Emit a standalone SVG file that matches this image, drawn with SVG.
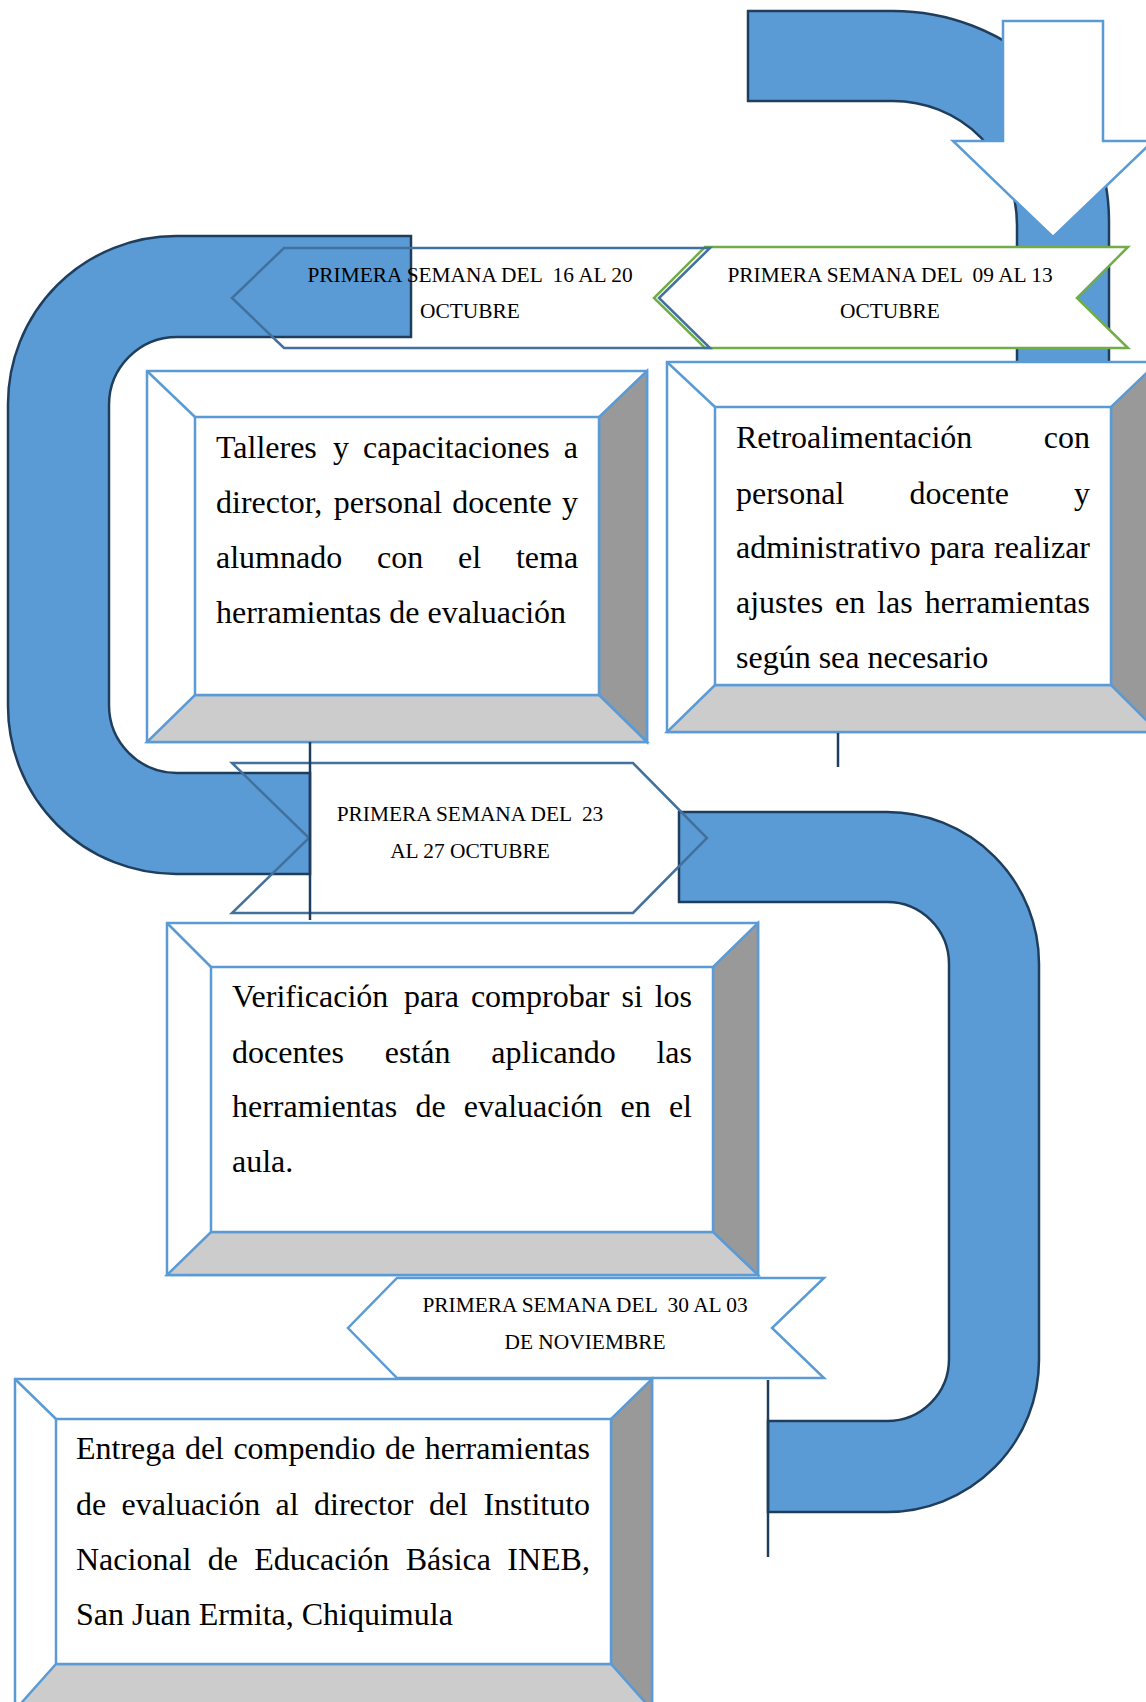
<svg xmlns="http://www.w3.org/2000/svg" width="1146" height="1702" viewBox="0 0 1146 1702">
<style>
.band{fill:#5B9BD5;stroke:#1F3D5C;stroke-width:2.5}
.bx{stroke:#5B9BD5;stroke-width:2.5;stroke-linejoin:miter}
.w{fill:#FFFFFF}
.dk{fill:#999999}
.lt{fill:#CCCCCC}
.rb{fill:none;stroke:#41719C;stroke-width:2.5}
.t{font-family:"Liberation Serif","Times New Roman",serif;font-size:32px;fill:#000}
.r{font-family:"Liberation Serif","Times New Roman",serif;font-size:21.4px;fill:#000;text-anchor:middle}
.ln{stroke:#1F3D5C;stroke-width:2.5;fill:none}
</style>
<rect width="1146" height="1702" fill="#FFFFFF"/>

<g id="band-top-right">
<path class="band" d="M748,11 H893 A216,210 0 0 1 1109,221 V380 H1017 V225 A124,124 0 0 0 893,101 H748 Z"/>
</g>
<g id="band-left">
<path class="band" d="M411,236 H176 A168,168 0 0 0 8,404 V706 A168,168 0 0 0 176,874 H310 V773 H177 A68,68 0 0 1 109,705 V405 A68,68 0 0 1 177,337 H411 Z"/>
</g>
<g id="band-right">
<path class="band" d="M679,812 H887 A152,152 0 0 1 1039,964 V1360 A152,152 0 0 1 887,1512 H768 V1421 H887 A62,62 0 0 0 949,1359 V964 A62,62 0 0 0 887,902 H679 Z"/>
</g>

<g id="down-arrow">
<path d="M1003,21 H1103 V141 H1153 L1053,237 L953,141 H1003 Z" fill="#FFFFFF" stroke="#5B9BD5" stroke-width="2.5"/>
</g>

<g id="ribbon-1">
<path d="M705,247 H1128 L1077,298 L1128,348 H705 L654,298 Z" fill="#FFFFFF" stroke="#70AD47" stroke-width="2.5"/>
<text class="r" xml:space="preserve" x="890" y="282">PRIMERA SEMANA DEL  09 AL 13</text>
<text class="r" x="890" y="318">OCTUBRE</text>
</g>

<g id="ribbon-2">
<path class="rb" d="M284,248 H710 L659,298 L710,348 H284 L232,298 Z"/>
<text class="r" xml:space="preserve" x="470" y="282">PRIMERA SEMANA DEL  16 AL 20</text>
<text class="r" x="470" y="318">OCTUBRE</text>
</g>

<g id="box-1">
<rect class="bx w" x="147" y="371" width="500" height="371"/>
<polygon class="bx dk" points="647,371 647,742 599,695 599,417"/>
<polygon class="bx lt" points="147,742 647,742 599,695 195,695"/>
<rect class="bx w" x="195" y="417" width="404" height="278"/>
<line class="bx" x1="147" y1="371" x2="195" y2="417"/>
<text class="t" y="458"><tspan x="216">Talleres</tspan><tspan x="333.1">y</tspan><tspan x="363.1">capacitaciones</tspan><tspan x="563.8">a</tspan></text>
<text class="t" y="513"><tspan x="216">director,</tspan><tspan x="333.7">personal</tspan><tspan x="452.3">docente</tspan><tspan x="562">y</tspan></text>
<text class="t" y="568"><tspan x="216">alumnado</tspan><tspan x="377">con</tspan><tspan x="458">el</tspan><tspan x="515.9">tema</tspan></text>
<text class="t" x="216" y="623">herramientas de evaluación</text>
</g>

<g id="box-2">
<rect class="bx w" x="667" y="362" width="491" height="370"/>
<polygon class="bx dk" points="1158,362 1158,732 1111,685 1111,407"/>
<polygon class="bx lt" points="667,732 1158,732 1111,685 715,685"/>
<rect class="bx w" x="715" y="407" width="396" height="278"/>
<line class="bx" x1="667" y1="362" x2="715" y2="407"/>
<text class="t" y="448"><tspan x="736">Retroalimentación</tspan><tspan x="1043.8">con</tspan></text>
<text class="t" y="504"><tspan x="736">personal</tspan><tspan x="909.5">docente</tspan><tspan x="1074">y</tspan></text>
<text class="t" y="558"><tspan x="736">administrativo</tspan><tspan x="930">para</tspan><tspan x="994.1">realizar</tspan></text>
<text class="t" y="613"><tspan x="736">ajustes</tspan><tspan x="835">en</tspan><tspan x="877.1">las</tspan><tspan x="924.7">herramientas</tspan></text>
<text class="t" x="736" y="668">según sea necesario</text>
</g>

<g id="ribbon-3">
<path class="rb" d="M232,763 H633 L707,838 L633,913 H232 L309,838 Z"/>
<text class="r" xml:space="preserve" x="470" y="821">PRIMERA SEMANA DEL  23</text>
<text class="r" x="470" y="858">AL 27 OCTUBRE</text>
</g>

<g id="box-3">
<rect class="bx w" x="167" y="923" width="591" height="352"/>
<polygon class="bx dk" points="758,923 758,1275 713,1232 713,967"/>
<polygon class="bx lt" points="167,1275 758,1275 713,1232 211,1232"/>
<rect class="bx w" x="211" y="967" width="502" height="265"/>
<line class="bx" x1="167" y1="923" x2="211" y2="967"/>
<text class="t" y="1007"><tspan x="232">Verificación</tspan><tspan x="403.9">para</tspan><tspan x="470.9">comprobar</tspan><tspan x="621.5">si</tspan><tspan x="654.7">los</tspan></text>
<text class="t" y="1063"><tspan x="232">docentes</tspan><tspan x="384.7">están</tspan><tspan x="491.3">aplicando</tspan><tspan x="656.4">las</tspan></text>
<text class="t" y="1117"><tspan x="232">herramientas</tspan><tspan x="415.5">de</tspan><tspan x="463.8">evaluación</tspan><tspan x="620.6">en</tspan><tspan x="668.9">el</tspan></text>
<text class="t" x="232" y="1172">aula.</text>
</g>

<g id="ribbon-4">
<path d="M397,1278 H824 L772,1328 L824,1378 H397 L348,1328 Z" fill="#FFFFFF" stroke="#5B9BD5" stroke-width="2.5"/>
<text class="r" xml:space="preserve" x="585" y="1312">PRIMERA SEMANA DEL  30 AL 03</text>
<text class="r" x="585" y="1349">DE NOVIEMBRE</text>
</g>

<g id="box-4">
<rect class="bx w" x="15" y="1379" width="637" height="331"/>
<polygon class="bx dk" points="652,1379 652,1710 611,1664 611,1419"/>
<polygon class="bx lt" points="15,1710 652,1710 611,1664 56,1664"/>
<rect class="bx w" x="56" y="1419" width="555" height="245"/>
<line class="bx" x1="15" y1="1379" x2="56" y2="1419"/>
<text class="t" y="1459"><tspan x="76">Entrega</tspan><tspan x="184.9">del</tspan><tspan x="233.4">compendio</tspan><tspan x="385">de</tspan><tspan x="424.7">herramientas</tspan></text>
<text class="t" y="1515"><tspan x="76">de</tspan><tspan x="121.6">evaluación</tspan><tspan x="275.5">al</tspan><tspan x="314">director</tspan><tspan x="428.9">del</tspan><tspan x="483.4">Instituto</tspan></text>
<text class="t" y="1570"><tspan x="76">Nacional</tspan><tspan x="207.8">de</tspan><tspan x="254.3">Educación</tspan><tspan x="405.7">Básica</tspan><tspan x="507.3">INEB,</tspan></text>
<text class="t" x="76" y="1625">San Juan Ermita, Chiquimula</text>
</g>

<g id="connectors">
<line class="ln" x1="310" y1="742" x2="310" y2="920"/>
<line class="ln" x1="838" y1="733" x2="838" y2="767"/>
<line class="ln" x1="768" y1="1380" x2="768" y2="1557"/>
</g>
</svg>
